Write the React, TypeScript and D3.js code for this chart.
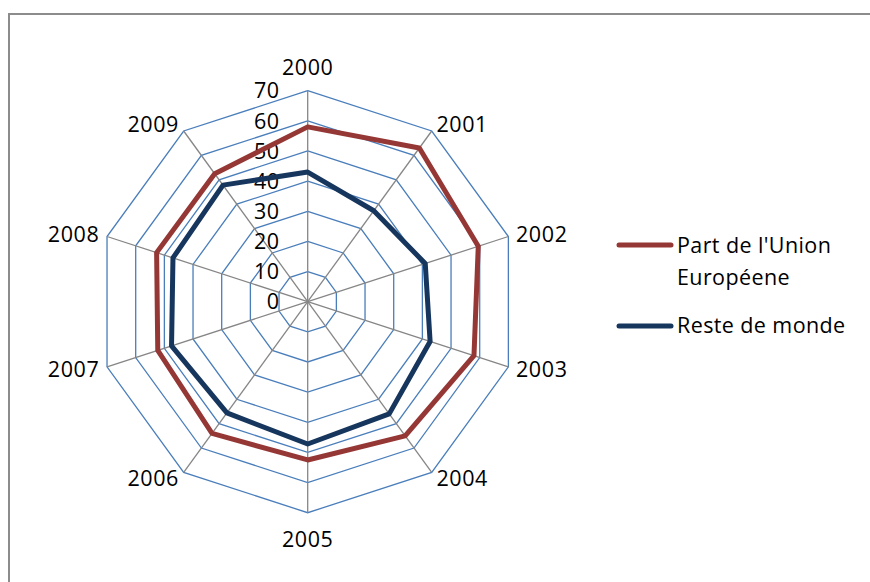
import React from "react";
import * as d3 from "d3";

const years = ["2000", "2001", "2002", "2003", "2004", "2005", "2006", "2007", "2008", "2009"];
const partUE = [58, 63, 59.5, 58, 55, 52.5, 54, 52.3, 52.7, 52.5];
const resteMonde = [43, 37.3, 41, 42.7, 46, 47.2, 45.6, 47.5, 47, 47.8];
const ticks = [0, 10, 20, 30, 40, 50, 60, 70];
const seriesNames = ["Part de l'Union Européene", "Reste de monde"];

const W = 870;
const H = 582;
const cx = 307.7;
const cy = 301.7;
const R = 211;
const FONT = "'Open Sans', 'Liberation Sans', sans-serif";
const FS = 21.5;
const RED = "#953735";
const NAVY = "#17365d";
const GRID = "#4a7ebb";
const SPOKE = "#868686";

export default function App() {
  const r = d3.scaleLinear().domain([0, 70]).range([0, R]);
  const angle = d3
    .scaleLinear()
    .domain([0, years.length])
    .range([0, 2 * Math.PI]);

  const pt = (i: number, v: number): [number, number] => {
    const a = angle(i);
    return [cx + r(v) * Math.sin(a), cy - r(v) * Math.cos(a)];
  };

  const ring = (v: number) => {
    const pts = years.map((_, i) => pt(i, v));
    return d3.line()(pts.concat([pts[0]])) as string;
  };

  const seriesPath = (vals: number[]) =>
    d3.line().curve(d3.curveLinearClosed)(vals.map((v, i) => pt(i, v))) as string;

  return (
    <svg
      width={W}
      height={H}
      style={{ position: "absolute", left: 0, top: 0, background: "#fff" }}
      fontFamily={FONT}
    >
      <rect x={0} y={0} width={W} height={H} fill="#fff" />
      {/* chart frame (top and left edges visible) */}
      <line x1={9} y1={14} x2={870} y2={14} stroke="#8c8c8c" strokeWidth={2} />
      <line x1={9} y1={13} x2={9} y2={582} stroke="#8c8c8c" strokeWidth={2} />

      {/* concentric value rings */}
      {ticks.slice(1).map((t) => (
        <path key={t} d={ring(t)} fill="none" stroke={GRID} strokeWidth={1.3} />
      ))}

      {/* spokes */}
      {years.map((y, i) => {
        const [x2, y2] = pt(i, 70);
        return <line key={y} x1={cx} y1={cy} x2={x2} y2={y2} stroke={SPOKE} strokeWidth={1.3} />;
      })}

      {/* value axis labels */}
      {ticks.map((t) => (
        <text
          key={t}
          x={cx - 28}
          y={cy - r(t)}
          dy="0.36em"
          textAnchor="end"
          fontSize={FS}
          letterSpacing={0.6}
          fill="#000"
        >
          {t}
        </text>
      ))}

      {/* category labels */}
      {years.map((y, i) => {
        const a = angle(i);
        const s = Math.sin(a);
        const c = Math.cos(a);
        const [lx, ly] = [cx + (R + 8) * s, cy - (R + 8) * c];
        const anchor = Math.abs(s) < 0.1 ? "middle" : s > 0 ? "start" : "end";
        let dy = 7.5;
        if (Math.abs(s) < 0.1) dy = c > 0 ? -8 : 26;
        return (
          <text
            key={y}
            x={lx}
            y={ly + dy}
            textAnchor={anchor}
            fontSize={FS}
            letterSpacing={0.6}
            fill="#000"
          >
            {y}
          </text>
        );
      })}

      {/* series */}
      <path d={seriesPath(partUE)} fill="none" stroke={RED} strokeWidth={5} strokeLinejoin="round" />
      <path d={seriesPath(resteMonde)} fill="none" stroke={NAVY} strokeWidth={5} strokeLinejoin="round" />

      {/* legend */}
      <g>
        <line x1={619} y1={245} x2={671} y2={245} stroke={RED} strokeWidth={5} strokeLinecap="round" />
        <text x={677} y={253} fontSize={FS} letterSpacing={0.4} fill="#000">
          Part de l'Union
        </text>
        <text x={677} y={285} fontSize={FS} letterSpacing={0.4} fill="#000">
          Européene
        </text>
        <line x1={619} y1={326} x2={671} y2={326} stroke={NAVY} strokeWidth={5} strokeLinecap="round" />
        <text x={677} y={333} fontSize={FS} letterSpacing={0.4} fill="#000">
          {seriesNames[1]}
        </text>
      </g>
    </svg>
  );
}
